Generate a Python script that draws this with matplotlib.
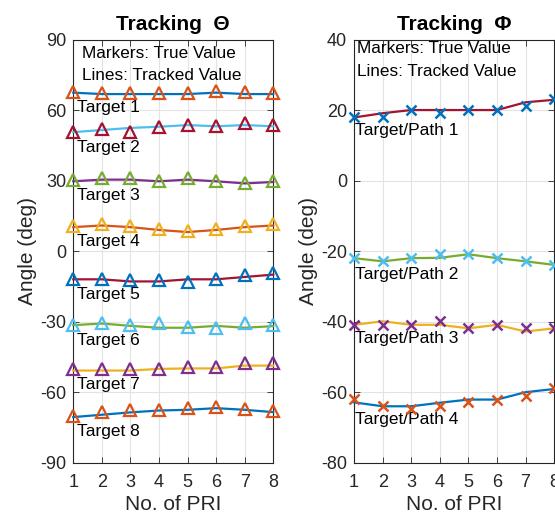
import numpy as np
import matplotlib
matplotlib.use("Agg")
import matplotlib.pyplot as plt

plt.rcParams["font.family"] = ["Liberation Sans", "DejaVu Sans"]
plt.rcParams["axes.unicode_minus"] = False

# MATLAB default colours
blue = "#0072BD"
orange = "#D95319"
yellow = "#EDB120"
purple = "#7E2F8E"
green = "#77AC30"
lblue = "#4DBEEE"
dred = "#A2142F"

pri = [1, 2, 3, 4, 5, 6, 7, 8]

# Theta: true values (markers) and tracked values (lines)
theta_true = [
    [67.8, 67.4, 67.4, 67.4, 67.4, 68.2, 67.8, 67.4],
    [50.8, 51.9, 50.8, 52.9, 53.6, 53.3, 54.4, 53.6],
    [30.4, 31.1, 31.1, 29.7, 31.1, 29.7, 28.8, 29.7],
    [10.5, 11.6, 10.5, 9.5, 8.5, 9.5, 10.5, 11.6],
    [-11.7, -11.7, -12.4, -12.4, -13.1, -11.7, -10.3, -9.3],
    [-31.5, -30.5, -31.5, -30.5, -32.2, -32.9, -30.5, -31.5],
    [-50.1, -50.1, -50.1, -50.1, -49.2, -49.2, -47.7, -47.7],
    [-70.0, -68.6, -67.5, -67.5, -66.8, -66.1, -67.1, -67.9],
]
theta_track = [
    [67.4, 66.8, 66.8, 66.8, 66.8, 67.4, 66.8, 66.8],
    [50.6, 51.5, 52.4, 52.9, 53.6, 53.1, 53.6, 53.1],
    [29.7, 30.4, 30.4, 29.7, 30.4, 29.7, 28.8, 29.4],
    [10.2, 10.9, 10.2, 9.0, 8.1, 9.0, 10.2, 10.9],
    [-12.0, -12.0, -12.9, -12.9, -12.0, -12.0, -11.0, -10.0],
    [-31.5, -30.8, -31.8, -32.6, -32.6, -31.8, -32.6, -31.9],
    [-50.8, -50.8, -50.8, -50.1, -49.9, -49.9, -48.7, -48.7],
    [-70.6, -69.6, -68.6, -67.8, -67.5, -66.8, -67.5, -68.5],
]
theta_labels = ["Target %d" % k for k in range(1, 9)]
theta_line_colors = [blue, lblue, purple, orange, dred, green, yellow, blue]
theta_mark_colors = [orange, dred, green, yellow, blue, lblue, purple, orange]

# Phi
phi_true = [
    [18.1, 18.1, 20.1, 19.1, 20.1, 20.1, 21.2, 23.1],
    [-22.0, -22.9, -22.0, -20.9, -20.9, -22.0, -22.9, -23.9],
    [-40.9, -40.9, -40.9, -39.9, -41.9, -40.9, -41.9, -41.9],
    [-61.9, -64.0, -64.9, -64.0, -62.9, -62.1, -61.0, -58.9],
]
phi_track = [
    [17.9, 19.1, 20.0, 20.0, 20.0, 20.0, 22.2, 22.9],
    [-22.0, -22.9, -22.0, -21.9, -20.9, -22.0, -22.9, -23.9],
    [-40.9, -39.9, -40.9, -40.9, -41.9, -40.9, -42.8, -41.9],
    [-62.9, -64.0, -64.0, -63.0, -62.1, -62.1, -60.0, -59.1],
]
phi_labels = ["Target/Path %d" % k for k in range(1, 5)]
phi_line_colors = [dred, green, yellow, blue]
phi_mark_colors = [blue, lblue, purple, orange]

fig = plt.figure(figsize=(5.55, 5.22), dpi=100)
ax1 = fig.add_axes([0.132, 0.1136, 0.3604, 0.8107])
ax2 = fig.add_axes([0.638, 0.1136, 0.3604, 0.8107])

dark = "#262626"


def style(ax, ylim, yticks, symbol):
    ax.set_xlim(1, 8)
    ax.set_ylim(*ylim)
    ax.set_xticks(pri)
    ax.set_yticks(yticks)
    ax.grid(True, color="#e3e3e3", linewidth=0.8)
    ax.set_axisbelow(True)
    ax.tick_params(direction="in", top=True, right=True, labelsize=13,
                   colors=dark, length=4, width=0.6)
    ax.tick_params(axis="x", pad=8)
    ax.tick_params(axis="y", pad=5)
    for s in ax.spines.values():
        s.set_color(dark)
        s.set_linewidth(0.8)
    ax.set_xlabel("No. of PRI", fontsize=15, color=dark, labelpad=3)
    ax.set_ylabel("Angle (deg)", fontsize=15, color=dark, labelpad=2)
    ax.set_title("Tracking  " + symbol, fontsize=15, fontweight="bold", pad=7)


# Theta panel
for tr, tk, lab, lc, mc in zip(theta_true, theta_track, theta_labels,
                               theta_line_colors, theta_mark_colors):
    ax1.plot(pri, tk, color=lc, lw=1.6, clip_on=False, zorder=3)
    ax1.plot(pri, tr, ls="none", marker="^", ms=9, mfc="none", mec=mc,
             mew=1.6, clip_on=False, zorder=4)
    ax1.text(1.12, tr[0] - 6.6, lab, fontsize=12.5, va="center", ha="left")
style(ax1, (-90, 90), [-90, -60, -30, 0, 30, 60, 90], "Θ")
ax1.text(0.043, 0.967, "Markers: True Value", transform=ax1.transAxes,
         fontsize=12.3, va="center")
ax1.text(0.043, 0.916, "Lines: Tracked Value", transform=ax1.transAxes,
         fontsize=12.3, va="center")

# Phi panel
for tr, tk, lab, lc, mc in zip(phi_true, phi_track, phi_labels,
                               phi_line_colors, phi_mark_colors):
    ax2.plot(pri, tk, color=lc, lw=1.6, clip_on=False, zorder=3)
    ax2.plot(pri, tr, ls="none", marker="x", ms=7, mec=mc,
             mew=1.8, clip_on=False, zorder=4)
    ax2.text(1.02, min(tr[0], tr[1]) - 3.8, lab, fontsize=12.5,
             va="center", ha="left")
style(ax2, (-80, 40), [-80, -60, -40, -20, 0, 20, 40], "Φ")
ax2.text(0.014, 0.979, "Markers: True Value", transform=ax2.transAxes,
         fontsize=12.3, va="center")
ax2.text(0.014, 0.924, "Lines: Tracked Value", transform=ax2.transAxes,
         fontsize=12.3, va="center")

fig.savefig("out.png", dpi=100)
